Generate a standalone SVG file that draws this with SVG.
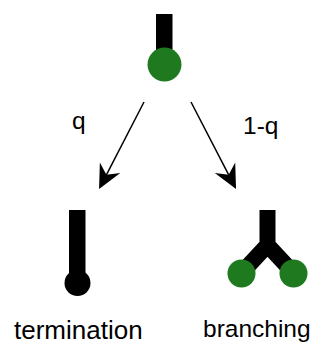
<svg xmlns="http://www.w3.org/2000/svg" width="322" height="345" viewBox="0 0 322 345">
<style>
.stem{fill:#000;}
.branch{fill:none;stroke:#000;stroke-width:16;}
.green{fill:#1f7a1f;}
.tipk{fill:#000;}
.arrow{stroke:#000;stroke-width:1.5;fill:none;marker-end:url(#ah);}
.lbl{font-family:"Liberation Sans",Arial,sans-serif;fill:#000;}
</style>
<defs>
<marker id="ah" markerUnits="userSpaceOnUse" markerWidth="40" markerHeight="40" refX="0" refY="0" orient="auto" viewBox="-20 -20 40 40" overflow="visible">
<path d="M14,0 L-10,-11.5 L-2,0 L-10,11.5 z" fill="#000"/>
</marker>
</defs>
<rect width="322" height="345" fill="#fff"/>
<g id="parent">
<rect class="stem" x="156" y="14" width="16.5" height="48"/>
<circle class="green" cx="164.5" cy="64.5" r="17"/>
</g>
<g id="connectors">
<line class="arrow" x1="144" y1="102" x2="105.5" y2="176.6"/>
<line class="arrow" x1="191" y1="102" x2="229.6" y2="176.6"/>
<text class="lbl" x="72" y="128.5" font-size="24.5">q</text>
<text class="lbl" x="243" y="134" font-size="24.5">1-q</text>
</g>
<g id="termination">
<rect class="stem" x="69" y="210" width="16.5" height="72"/>
<circle class="tipk" cx="77.5" cy="283" r="13"/>
<text class="lbl" x="14" y="339" font-size="26">termination</text>
</g>
<g id="branching">
<path class="branch" d="M267.5,210 L267.5,246 M241.5,273 L267.5,245 L293.5,273"/>
<circle class="green" cx="241.5" cy="273.5" r="14"/>
<circle class="green" cx="293.5" cy="273.5" r="14"/>
<text class="lbl" x="203" y="337" font-size="24.5">branching</text>
</g>
</svg>
